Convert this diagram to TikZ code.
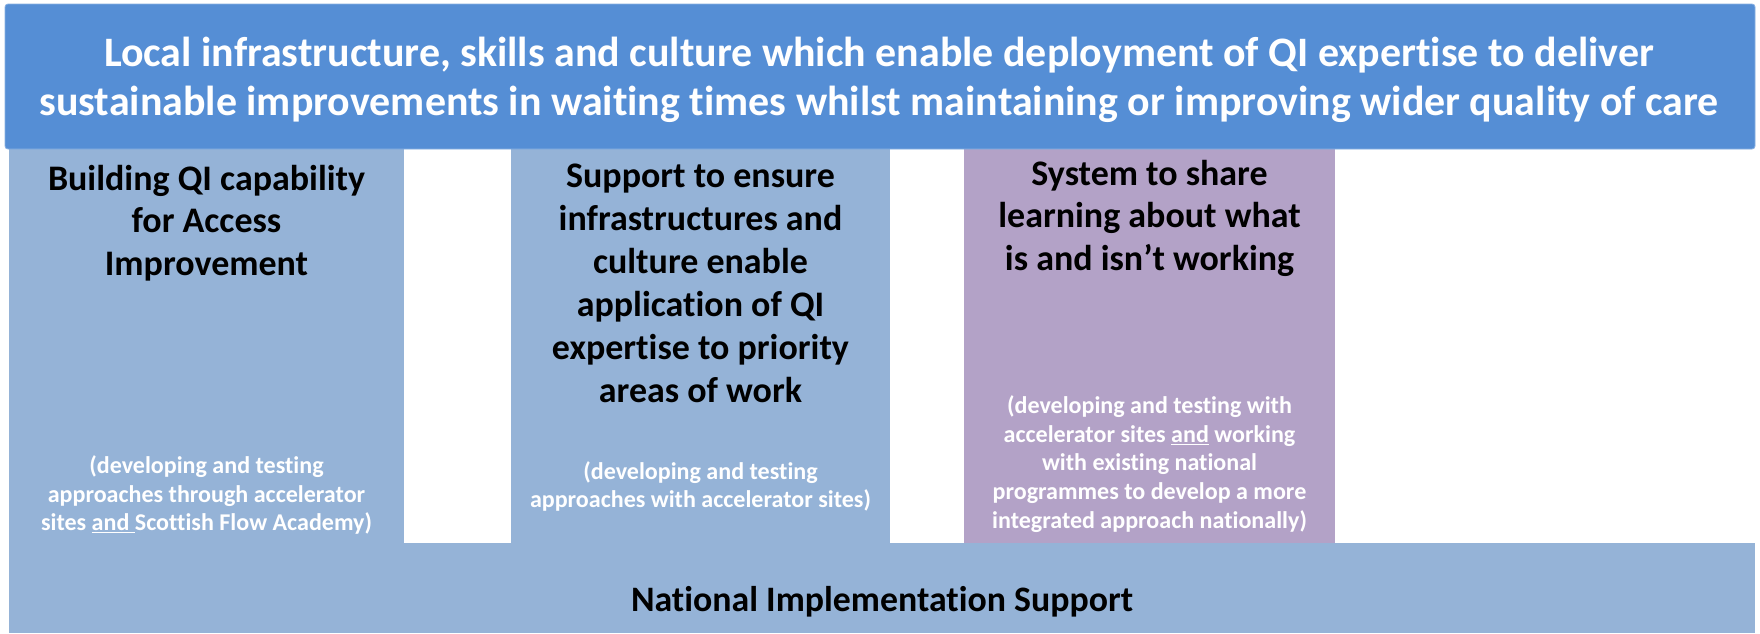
\documentclass[tikz,border=0pt]{standalone}
\usepackage{fontspec}
\setmainfont{Carlito}[Ligatures=NoCommon]
\definecolor{bannerblue}{HTML}{558ED5}
\definecolor{colblue}{HTML}{95B3D7}
\definecolor{colpurple}{HTML}{B3A2C7}
\newlength\tmpw
\newcommand\calcsize[3]{\settowidth\tmpw{\fontsize{10pt}{12pt}\selectfont\bfseries #3}\pgfmathsetmacro#1{10*#2/\tmpw}\global\let#1#1}
\newcommand\ulw[1]{\setbox0\hbox{#1}\rlap{\rule[-0.14em]{\wd0}{0.07em}}\box0}
\AtBeginDocument{%
\calcsize\bsz{1550}{Local infrastructure, skills and culture which enable deployment of QI expertise to deliver}%
\calcsize\hsz{317}{Building QI capability}%
\calcsize\ssz{341}{approaches with accelerator sites)}%
\calcsize\nsz{502}{National Implementation Support}%
}
\tikzset{
  ln/.style={anchor=base, inner sep=0pt, outer sep=0pt},
  bantext/.style={ln, text=white, font=\fontsize{\bsz pt}{\bsz pt}\selectfont\bfseries},
  headtext/.style={ln, text=black, font=\fontsize{\hsz pt}{\hsz pt}\selectfont\bfseries},
  smalltext/.style={ln, text=white, font=\fontsize{\ssz pt}{\ssz pt}\selectfont\bfseries},
  nattext/.style={ln, text=black, font=\fontsize{\nsz pt}{\nsz pt}\selectfont\bfseries},
}
\begin{document}
\begin{tikzpicture}[x=1pt,y=-1pt]
\useasboundingbox (0,0) rectangle (1760,633);
\fill[white] (0,0) rectangle (1760,633);
% panels
\fill[colblue] (9,149) rectangle (404,633);
\fill[colblue] (511,149) rectangle (890,633);
\fill[colpurple] (964,149) rectangle (1335,543);
\fill[colblue] (9,543) rectangle (1755,633);
\fill[bannerblue, draw=bannerblue!70!white, line width=0.8pt, rounded corners=3pt] (5,4) rectangle (1755,149);
% banner
\node[bantext] (ban1) at (879,66) {Local infrastructure, skills and culture which enable deployment of QI expertise to deliver};
\node[bantext] (ban2) at (879,115) {sustainable improvements in waiting times whilst maintaining or improving wider quality of care};
% column 1
\node[headtext] (h11) at (206.5,190) {Building QI capability};
\node[headtext] (h12) at (206.5,232.5) {for Access};
\node[headtext] (h13) at (206.5,275) {Improvement};
\node[smalltext] (s11) at (206.5,473) {(developing and testing};
\node[smalltext] (s12) at (206.5,502) {approaches through accelerator};
\node[smalltext] (s13) at (206.5,530) {sites \ulw{and }Scottish Flow Academy)};
% column 2
\node[headtext] (h21) at (700.5,187) {Support to ensure};
\node[headtext] (h22) at (700.5,230) {infrastructures and};
\node[headtext] (h23) at (700.5,273) {culture enable};
\node[headtext] (h24) at (700.5,316) {application of QI};
\node[headtext] (h25) at (700.5,359) {expertise to priority};
\node[headtext] (h26) at (700.5,402) {areas of work};
\node[smalltext] (s21) at (700.5,479) {(developing and testing};
\node[smalltext] (s22) at (700.5,507) {approaches with accelerator sites)};
% column 3
\node[headtext] (h31) at (1149.5,185) {System to share};
\node[headtext] (h32) at (1149.5,227.5) {learning about what};
\node[headtext] (h33) at (1149.5,270) {is and isn’t working};
\node[smalltext] (s31) at (1149.5,413) {(developing and testing with};
\node[smalltext] (s32) at (1149.5,442) {accelerator sites \ulw{and}\ working};
\node[smalltext] (s33) at (1149.5,470.5) {with existing national};
\node[smalltext] (s34) at (1149.5,499.5) {programmes to develop a more};
\node[smalltext] (s35) at (1149.5,528) {integrated approach nationally)};
% bottom bar
\node[nattext] (nat) at (882,611) {National Implementation Support};
\end{tikzpicture}
\end{document}
